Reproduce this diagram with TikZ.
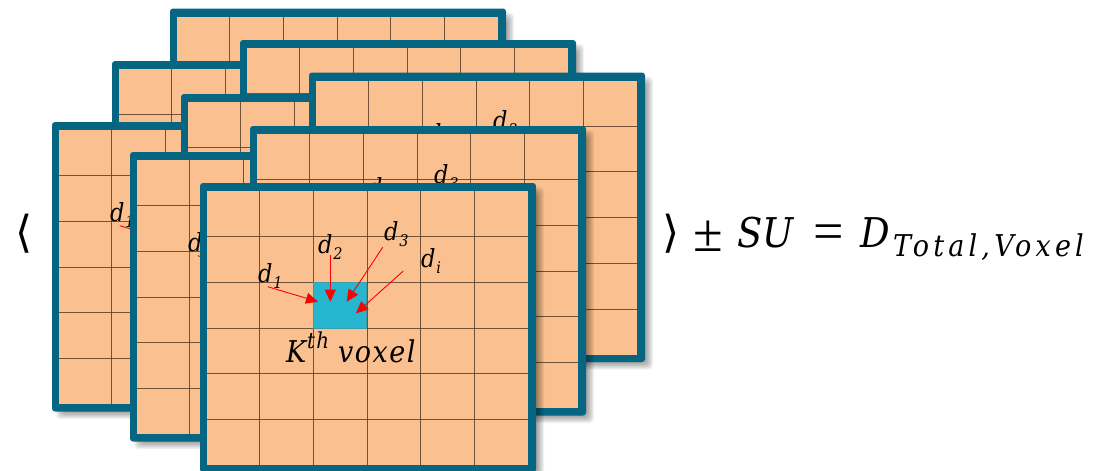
\documentclass[tikz,border=0pt]{standalone}
\usepackage{fontspec}
\setmainfont{Liberation Serif}
\newfontfamily\eqfam[ItalicFont={DejaVu Serif Condensed Italic}]{DejaVu Serif Condensed}
\newfontfamily\symb{DejaVu Sans}
\usetikzlibrary{arrows.meta}
\definecolor{frameteal}{HTML}{066580}
\definecolor{cellfill}{HTML}{FBC08F}
\definecolor{voxelcyan}{HTML}{26B6CF}
\definecolor{voxeledge}{HTML}{3A9DA8}
\definecolor{gridbrown}{HTML}{5A3F2A}
\tikzset{
  x=1pt,y=-1pt,
  panelframe/.style={fill=frameteal,rounded corners=3pt},
  panelcells/.style={fill=cellfill},
  gridline/.style={draw=gridbrown,line width=0.9pt,draw opacity=0.85},
  voxelcell/.style={draw=voxeledge,line width=1pt,fill=voxelcyan},
  dist/.style={draw=red,line width=0.9pt,-{Triangle[length=12pt,width=11pt]}},
  lbl/.style={anchor=base west,inner sep=0pt,outer sep=0pt,text=black},
  dlabel/.style={lbl,font=\eqfam\fontsize{25}{25}\selectfont\itshape},
}
\newcommand{\dsub}[2]{#1\kern1pt\raisebox{-6pt}{\fontsize{16}{16}\selectfont #2}}
\newcommand{\lone}{\node[dlabel] (l1) at (58,99) {\dsub{d}{1}};}
\newcommand{\ltwo}{\node[dlabel] (l2) at (118,70) {\dsub{d}{2}};}
\newcommand{\lthree}{\node[dlabel] (l3) at (184,57) {\dsub{d}{3}};}
\newcommand{\lfour}{\node[dlabel] (l4) at (221,84) {\dsub{d}{i}};}
\newcommand{\panel}[4]{%
  \begin{scope}[shift={(#2,#3)},name prefix=#1-]
    \foreach \s in {-5,-4,-3,-2,-1,0,1,2,3}
      \fill[black,opacity=0.05,rounded corners=4pt] (7-\s,7-\s) rectangle (341+\s,294+\s);
    \path[panelframe] (0,0) rectangle (336,289.5);
    \path[panelcells] (7,8) rectangle (328,282);
    \foreach \k in {1,...,5}{
      \draw[gridline] (6+53.7*\k,8) -- (6+53.7*\k,282);
      \draw[gridline] (7,8+45.7*\k) -- (328,8+45.7*\k);
    }
    \path[voxelcell] (113.3,99.4) rectangle (166.7,145);
    #4
    \coordinate (s1) at (67.7,103.7); \coordinate (t1) at (118,118.7);
    \coordinate (s2) at (130.3,72.3); \coordinate (t2) at (130.3,118.7);
    \coordinate (s3) at (182.7,64.3); \coordinate (t3) at (146.7,118.7);
    \coordinate (s4) at (203.3,88);   \coordinate (t4) at (156,130.3);
    \draw[dist] (s1) -- (t1);
    \draw[dist] (s2) -- (t2);
    \draw[dist] (s3) -- (t3);
    \draw[dist] (s4) -- (t4);
  \end{scope}%
}
\begin{document}
\begin{tikzpicture}
\clip (0,0) rectangle (1111,471);
\fill[white] (0,0) rectangle (1111,471);
\panel{a}{170}{8.5}{}
\panel{b}{112}{61}{}
\panel{c}{240}{40}{}
\panel{d}{52}{122}{\lone}
\panel{e}{181}{94}{}
\panel{f}{309}{72.5}{\ltwo\lthree}
\panel{g}{130}{152}{\lone}
\panel{h}{250}{126}{\ltwo\lthree}
\panel{i}{200}{183}{\lone\ltwo\lthree\lfour
  \node[lbl,font=\eqfam\fontsize{30}{30}\selectfont\itshape] (kv) at (86,179)
    {K\kern1pt\raisebox{14pt}{\fontsize{22}{22}\selectfont\addfontfeature{LetterSpace=6}th}\kern9pt{\addfontfeature{LetterSpace=5}voxel}};}
\node[lbl,font=\symb\fontsize{44}{44}\selectfont] (lang) at (15,247) {⟨};
\node[lbl,font=\symb\fontsize{44}{44}\selectfont] (rang) at (662,247) {⟩};
\node[lbl,font=\fontsize{54}{54}\selectfont] (pm) at (693,251) {±};
\node[lbl,font=\eqfam\fontsize{41}{41}\selectfont\itshape] (su) at (737,247) {SU};
\node[lbl,font=\fontsize{54}{54}\selectfont] (eq) at (813,249) {=};
\node[lbl,font=\eqfam\fontsize{41}{41}\selectfont\itshape] (dd) at (860,247) {D};
\node[lbl,font=\eqfam\fontsize{30}{30}\selectfont\itshape\addfontfeature{LetterSpace=14}] (sub) at (893,256) {Total,Voxel};
\end{tikzpicture}
\end{document}
